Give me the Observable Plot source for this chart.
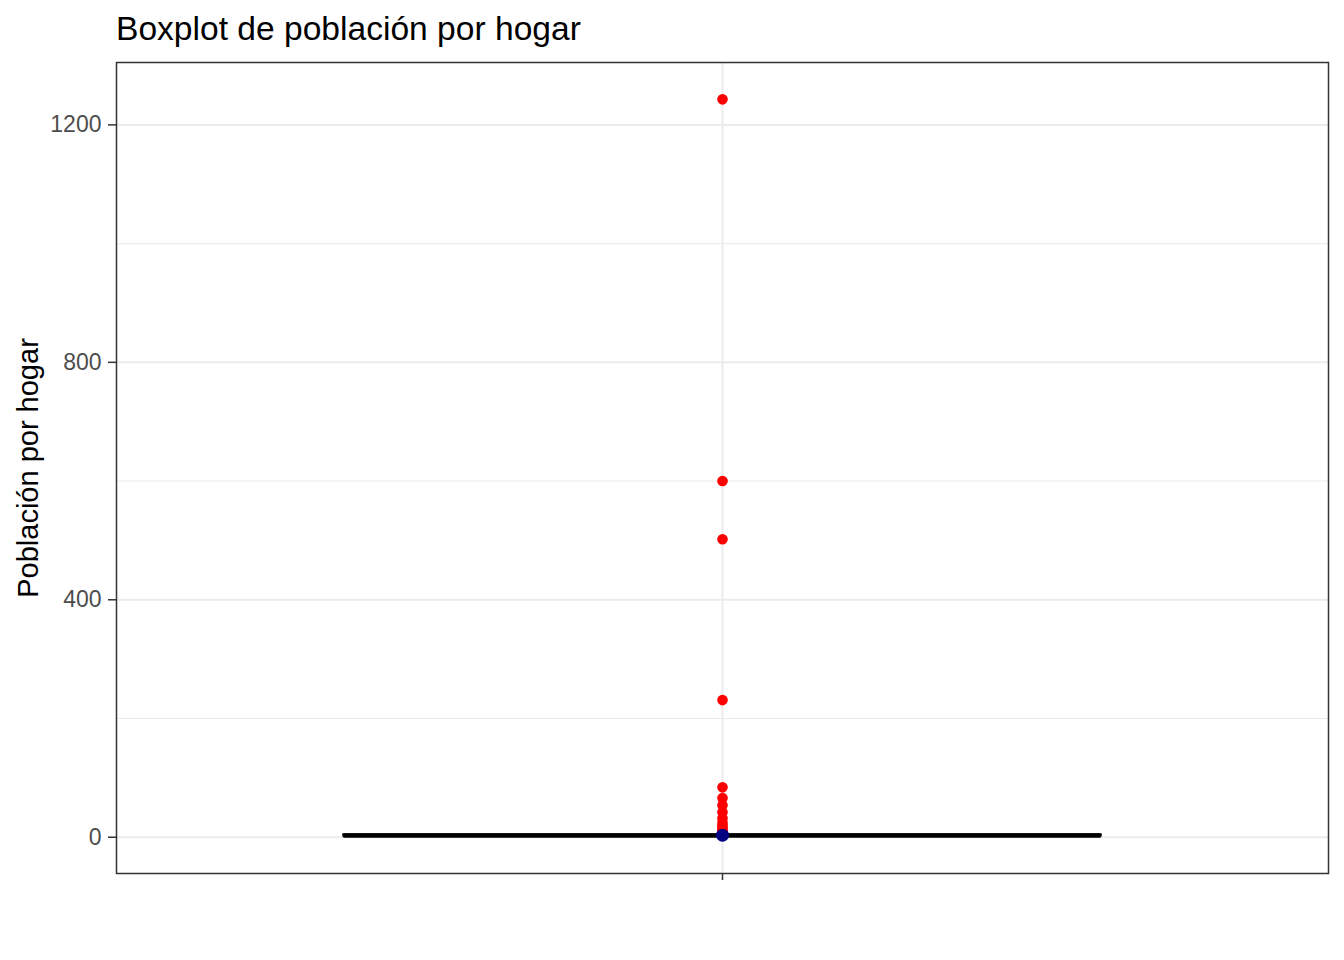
<!DOCTYPE html>
<html>
<head>
<meta charset="utf-8">
<script src="https://cdn.jsdelivr.net/npm/d3@7"></script>
<script src="https://cdn.jsdelivr.net/npm/@observablehq/plot@0.6"></script>
<style>
  html, body { margin: 0; padding: 0; background: #ffffff; }
  body { width: 1344px; height: 960px; position: relative; overflow: hidden; font-family: "Liberation Sans", Arial, sans-serif; }
  #title { position: absolute; left: 116px; top: 10px; font-size: 33.6px; color: #000; line-height: normal; white-space: nowrap; }
  #chart { position: absolute; left: 0; top: 55px; }
</style>
</head>
<body>
<div id="title">Boxplot de población por hogar</div>
<div id="chart"></div>
<script>
// Data
const titleText = "Boxplot de población por hogar";
const yLabel = "Población por hogar";
const categories = [""];
const boxStats = [{cat: 1, lower: 1, q1: 2, median: 3, q3: 4, upper: 7}];
const outliers = [8, 10, 13, 16, 20, 25, 32, 42, 54, 66, 84, 231, 502, 600, 1243];
const meanValue = [3.4];
const yTicksMajor = [0, 400, 800, 1200];
const yTicksMinor = [200, 600, 1000];

const outlierData = outliers.map(v => ({cat: 1, v}));
const meanData = meanValue.map(v => ({cat: 1, v}));

const ymin = Math.min(boxStats[0].lower, ...outliers);
const ymax = Math.max(boxStats[0].upper, ...outliers);
const pad = (ymax - ymin) * 0.05;

const plot = Plot.plot({
  width: 1344,
  height: 905,
  marginTop: 7,
  marginBottom: 87,
  marginLeft: 116,
  marginRight: 16,
  style: {fontFamily: "Liberation Sans, Arial, sans-serif", background: "#ffffff"},
  x: {type: "linear", domain: [0.4, 1.6]},
  y: {domain: [ymin - pad, ymax + pad]},
  marks: [
    Plot.ruleY(yTicksMinor, {stroke: "#EBEBEB", strokeWidth: 1}),
    Plot.ruleY(yTicksMajor, {stroke: "#EBEBEB", strokeWidth: 2}),
    Plot.ruleX([1], {stroke: "#EBEBEB", strokeWidth: 2}),
    Plot.dot(outlierData, {x: "cat", y: "v", r: 5.3, fill: "#FF0000", stroke: "none"}),
    Plot.ruleX(boxStats, {x: "cat", y1: "lower", y2: "upper", stroke: "#000", strokeWidth: 2}),
    Plot.rect(boxStats, {x1: d => d.cat - 0.375, x2: d => d.cat + 0.375, y1: "q1", y2: "q3", fill: "#fff", stroke: "#000", strokeWidth: 2}),
    Plot.ruleY(boxStats, {y: "median", x1: d => d.cat - 0.375, x2: d => d.cat + 0.375, stroke: "#000", strokeWidth: 4.5}),
    Plot.dot(meanData, {x: "cat", y: "v", r: 6.5, fill: "#000080", stroke: "none"}),
    Plot.frame({stroke: "#333333", strokeWidth: 1.5}),
    Plot.axisY({ticks: yTicksMajor, tickSize: 8, tickPadding: 7, tickFormat: d3.format("d"), fontSize: 23, label: null, color: "#4D4D4D", stroke: "#333333", strokeWidth: 1.5}),
    Plot.axisX({ticks: [1], tickSize: 7, tickFormat: () => categories[0], label: null, stroke: "#333333", strokeWidth: 1.5}),
    Plot.text([yLabel], {frameAnchor: "left", textAnchor: "middle", dx: -88, rotate: -90, fontSize: 29, fill: "#000"})
  ]
});
document.getElementById("chart").appendChild(plot);
</script>
</body>
</html>
